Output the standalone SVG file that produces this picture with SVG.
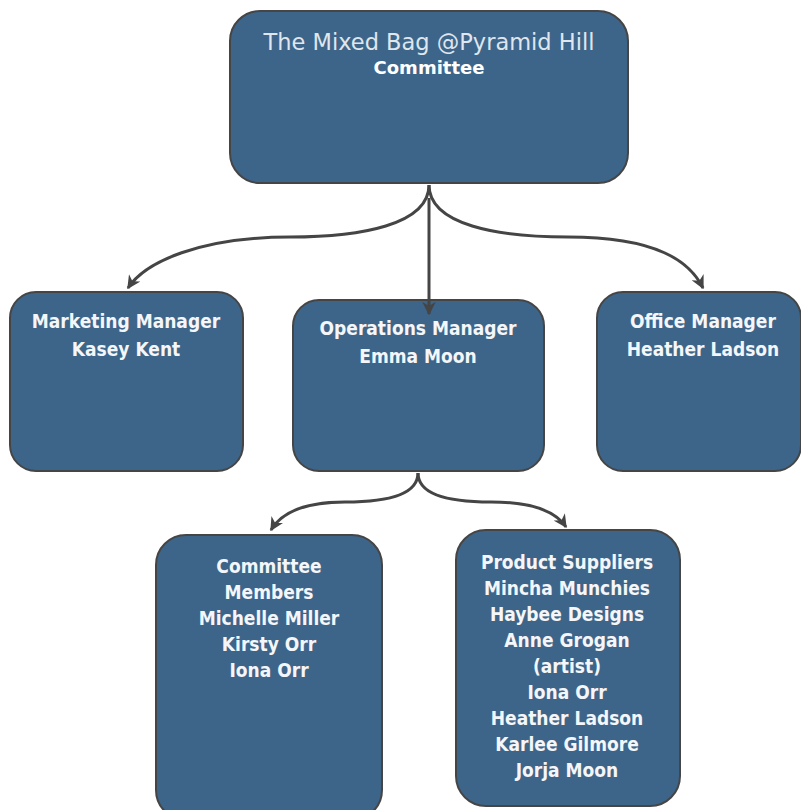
<svg xmlns="http://www.w3.org/2000/svg" width="801" height="810" viewBox="0 0 801 810">
<style>
.box{fill:#3d6589;stroke:#454545;stroke-width:2}
.t{font-family:"DejaVu Sans Condensed","DejaVu Sans",sans-serif;font-size:19px;font-weight:bold;fill:#f4f6f9;text-anchor:middle}
.title{font-family:"DejaVu Sans","Liberation Sans",sans-serif;font-size:22.5px;fill:#dfe6ee;text-anchor:middle}
.sub{font-family:"DejaVu Sans","Liberation Sans",sans-serif;font-size:18px;font-weight:bold;fill:#ffffff;text-anchor:middle}
.c{fill:none;stroke:#454545;stroke-width:3}
</style>
<defs>
<marker id="ah" viewBox="0 0 10 10" refX="9" refY="5" markerWidth="4.5" markerHeight="4.5" orient="auto" markerUnits="strokeWidth">
<path d="M0,0 L10,5 L0,10 L3,5 z" fill="#454545"/>
</marker>
</defs>
<rect width="801" height="810" fill="#ffffff"/>
<g id="root">
<rect class="box" x="230" y="11" width="398" height="172" rx="30"/>
<text class="title" x="429" y="50">The Mixed Bag @Pyramid Hill</text>
<text class="sub" x="429" y="74">Committee</text>
</g>
<g id="marketing">
<rect class="box" x="10" y="292" width="233" height="179" rx="26"/>
<text class="t" x="126" y="328">Marketing Manager</text>
<text class="t" x="126" y="356">Kasey Kent</text>
</g>
<g id="operations">
<rect class="box" x="293" y="300" width="251" height="171" rx="26"/>
<text class="t" x="418" y="335">Operations Manager</text>
<text class="t" x="418" y="363">Emma Moon</text>
</g>
<g id="office">
<rect class="box" x="597" y="292" width="204" height="179" rx="26"/>
<text class="t" x="703" y="328">Office Manager</text>
<text class="t" x="703" y="356">Heather Ladson</text>
</g>
<g id="committee">
<rect class="box" x="156" y="535" width="226" height="285" rx="30"/>
<text class="t" x="269" y="573">Committee</text>
<text class="t" x="269" y="599">Members</text>
<text class="t" x="269" y="625">Michelle Miller</text>
<text class="t" x="269" y="651">Kirsty Orr</text>
<text class="t" x="269" y="677">Iona Orr</text>
</g>
<g id="suppliers">
<rect class="box" x="456" y="530" width="224" height="276" rx="30"/>
<text class="t" x="567" y="569">Product Suppliers</text>
<text class="t" x="567" y="595">Mincha Munchies</text>
<text class="t" x="567" y="621">Haybee Designs</text>
<text class="t" x="567" y="647">Anne Grogan</text>
<text class="t" x="567" y="673">(artist)</text>
<text class="t" x="567" y="699">Iona Orr</text>
<text class="t" x="567" y="725">Heather Ladson</text>
<text class="t" x="567" y="751">Karlee Gilmore</text>
<text class="t" x="567" y="777">Jorja Moon</text>
</g>
<g id="connectors">
<path class="c" d="M429,185 C429,225 360,237 290,237 C200,237 145,262 128,288" marker-end="url(#ah)"/>
<path class="c" d="M429,185 C429,225 498,237 568,237 C658,237 690,262 703,288" marker-end="url(#ah)"/>
<path class="c" d="M429,198 L429,314" marker-end="url(#ah)"/>
<path class="c" d="M418,473 C418,495 385,502 345,502 C300,502 280,515 271,530" marker-end="url(#ah)"/>
<path class="c" d="M418,473 C418,495 451,502 491,502 C535,502 556,512 566,527" marker-end="url(#ah)"/>
</g>
</svg>
